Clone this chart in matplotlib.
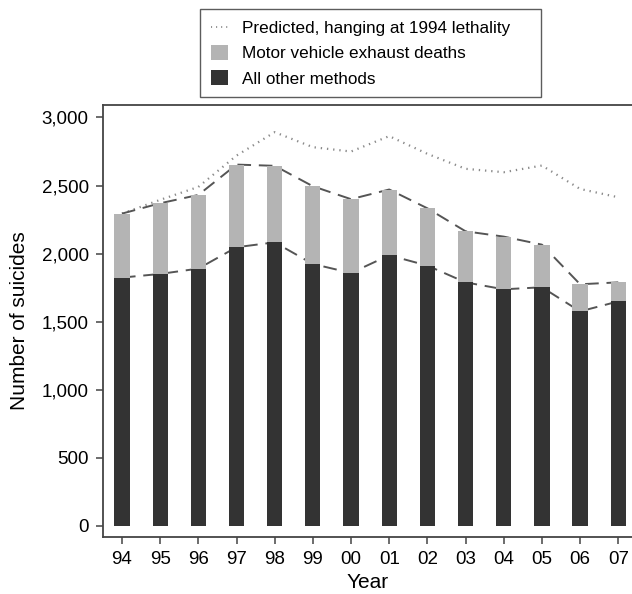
import numpy as np
import matplotlib.pyplot as plt
from matplotlib.patches import Patch
from matplotlib.lines import Line2D
from matplotlib.ticker import FuncFormatter

plt.rcParams['font.family'] = ['Liberation Sans', 'DejaVu Sans']

years = ["94", "95", "96", "97", "98", "99", "00", "01", "02", "03", "04", "05", "06", "07"]
other_methods = [1824, 1851, 1890, 2047, 2083, 1924, 1858, 1988, 1912, 1789, 1738, 1753, 1576, 1649]
total_deaths = [2294, 2370, 2431, 2654, 2645, 2495, 2400, 2471, 2333, 2164, 2125, 2066, 1775, 1789]
predicted = [2294, 2395, 2490, 2720, 2892, 2782, 2750, 2863, 2733, 2623, 2598, 2647, 2475, 2414]

exhaust = [t - o for t, o in zip(total_deaths, other_methods)]

gray = "#b4b4b4"
dark = "#333333"
x = np.arange(len(years))

fig = plt.figure(figsize=(6.32, 5.94), dpi=100)
ax = fig.add_axes([0.1625, 0.096, 0.8375, 0.728])

ax.plot(x, predicted, color="#8a8a8a", linestyle=(0, (0.6, 2.2)), lw=1.6, zorder=1)
ax.plot(x, total_deaths, color="#555555", linestyle=(0, (7, 4)), lw=1.4, zorder=1)
ax.plot(x, other_methods, color="#555555", linestyle=(0, (7, 4)), lw=1.4, zorder=1)

ax.bar(x, other_methods, width=0.4, color=dark, zorder=2)
ax.bar(x, exhaust, width=0.4, bottom=other_methods, color=gray, zorder=2)

ax.set_xlim(-0.505, 13.36)
ax.set_ylim(-81, 3095)
ax.set_xticks(x)
ax.set_xticklabels(years)
ax.set_yticks(np.arange(0, 3001, 500))
ax.yaxis.set_major_formatter(FuncFormatter(lambda v, p: f"{int(v):,}"))

for side in ["left", "bottom", "top"]:
    ax.spines[side].set_color("#444444")
    ax.spines[side].set_linewidth(1.3)
ax.spines["right"].set_visible(False)
ax.tick_params(axis="both", direction="out", length=5, width=1.1, color="#444444",
               labelsize=13.5, pad=5)

ax.set_xlabel("Year", fontsize=15, labelpad=4)
ax.set_ylabel("Number of suicides", fontsize=15, labelpad=9)

handles = [
    Line2D([0], [0], color="#8a8a8a", linestyle=(0, (0.6, 2.2)), lw=1.3),
    Patch(facecolor=gray, edgecolor="none"),
    Patch(facecolor=dark, edgecolor="none"),
]
labels = ["Predicted, hanging at 1994 lethality", "Motor vehicle exhaust deaths", "All other methods"]
leg = fig.legend(handles, labels, loc="upper left",
                 bbox_to_anchor=(200 / 632, 1 - 98 / 594, 341 / 632, 88.7 / 594),
                 mode="expand", borderaxespad=0, fontsize=12.3, frameon=True,
                 fancybox=False, handlelength=1.0, handleheight=0.95,
                 handletextpad=0.85, labelspacing=0.53, borderpad=0.62)
leg.get_frame().set_edgecolor("#333333")
leg.get_frame().set_linewidth(1.0)

fig.savefig("out.png", dpi=100)
